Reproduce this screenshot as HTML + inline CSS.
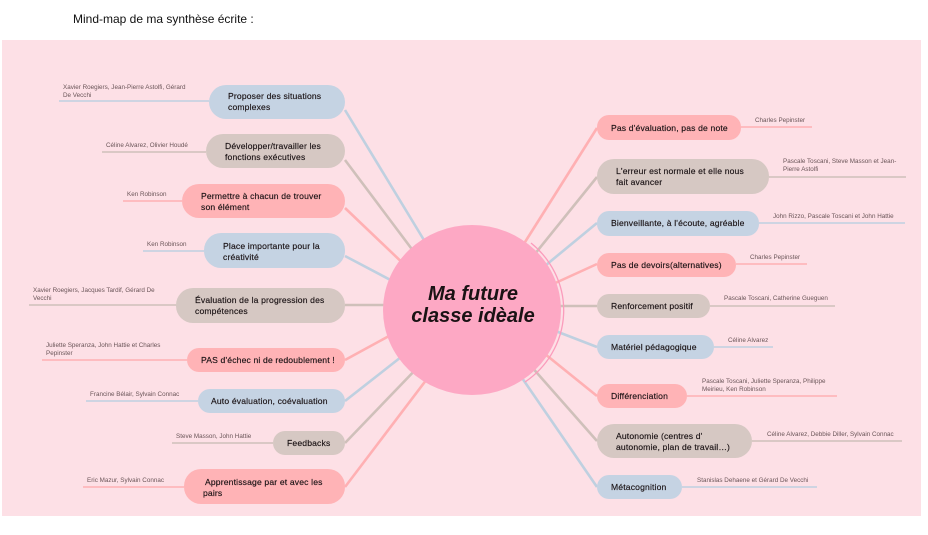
<!DOCTYPE html>
<html><head><meta charset="utf-8"><style>
html,body{margin:0;padding:0;background:#fff;width:928px;height:535px;overflow:hidden}
svg{display:block}
.t{font-family:"Liberation Sans",sans-serif;font-size:8.6px;fill:#1a1214;letter-spacing:.15px;stroke:#1a1214;stroke-width:.15px}
.a{font-family:"Liberation Sans",sans-serif;font-size:6.3px;fill:#6a5558}
</style></head><body>
<svg width="928" height="535" viewBox="0 0 928 535" xmlns="http://www.w3.org/2000/svg">
<text x="73" y="23" font-family="Liberation Sans,sans-serif" font-size="12" fill="#111">Mind-map de ma synthèse écrite :</text>
<rect x="2" y="40" width="919" height="476" fill="#fde0e6"/>
<g stroke-width="2.6" fill="none">
<line x1="345" y1="110" x2="430" y2="250" stroke="#bfd0e0"/>
<line x1="345" y1="160" x2="420" y2="260" stroke="#cfc0ba"/>
<line x1="345" y1="208" x2="410" y2="270" stroke="#ffb0b3"/>
<line x1="345" y1="256" x2="400" y2="285" stroke="#bfd0e0"/>
<line x1="345" y1="305" x2="400" y2="305" stroke="#cfc0ba"/>
<line x1="345" y1="360" x2="400" y2="330" stroke="#ffb0b3"/>
<line x1="345" y1="401" x2="410" y2="350" stroke="#bfd0e0"/>
<line x1="345" y1="443" x2="420" y2="365" stroke="#cfc0ba"/>
<line x1="345" y1="487" x2="430" y2="375" stroke="#ffb0b3"/>
<line x1="597" y1="128" x2="520" y2="250" stroke="#ffb0b3"/>
<line x1="597" y1="177" x2="530" y2="260" stroke="#cfc0ba"/>
<line x1="597" y1="223" x2="540" y2="270" stroke="#bfd0e0"/>
<line x1="597" y1="264" x2="540" y2="290" stroke="#ffb0b3"/>
<line x1="597" y1="306" x2="540" y2="306" stroke="#cfc0ba"/>
<line x1="597" y1="347" x2="540" y2="325" stroke="#bfd0e0"/>
<line x1="597" y1="396" x2="540" y2="350" stroke="#ffb0b3"/>
<line x1="597" y1="441" x2="530" y2="365" stroke="#cfc0ba"/>
<line x1="597" y1="487" x2="520" y2="375" stroke="#bfd0e0"/>
</g>
<g stroke-width="1.6">
<line x1="59" y1="101" x2="209" y2="101" stroke="#bfd0e0"/>
<line x1="102" y1="152" x2="206" y2="152" stroke="#cfc0ba"/>
<line x1="123" y1="201" x2="182" y2="201" stroke="#ffb0b3"/>
<line x1="143" y1="251" x2="204" y2="251" stroke="#bfd0e0"/>
<line x1="29" y1="305" x2="176" y2="305" stroke="#cfc0ba"/>
<line x1="42" y1="360" x2="187" y2="360" stroke="#ffb0b3"/>
<line x1="86" y1="401" x2="198" y2="401" stroke="#bfd0e0"/>
<line x1="172" y1="443" x2="273" y2="443" stroke="#cfc0ba"/>
<line x1="83" y1="487" x2="184" y2="487" stroke="#ffb0b3"/>
<line x1="741" y1="127" x2="812" y2="127" stroke="#ffb0b3"/>
<line x1="769" y1="177" x2="906" y2="177" stroke="#cfc0ba"/>
<line x1="759" y1="223" x2="905" y2="223" stroke="#bfd0e0"/>
<line x1="736" y1="264" x2="807" y2="264" stroke="#ffb0b3"/>
<line x1="710" y1="306" x2="835" y2="306" stroke="#cfc0ba"/>
<line x1="714" y1="347" x2="773" y2="347" stroke="#bfd0e0"/>
<line x1="687" y1="396" x2="837" y2="396" stroke="#ffb0b3"/>
<line x1="752" y1="441" x2="902" y2="441" stroke="#cfc0ba"/>
<line x1="682" y1="487" x2="817" y2="487" stroke="#bfd0e0"/>
</g>
<rect x="209" y="85" width="136" height="34" rx="17" fill="#c5d3e3"/>
<rect x="206" y="134" width="139" height="34" rx="17" fill="#d6c8c3"/>
<rect x="182" y="184" width="163" height="34" rx="17" fill="#ffb3b6"/>
<rect x="204" y="233" width="141" height="35" rx="17" fill="#c5d3e3"/>
<rect x="176" y="288" width="169" height="35" rx="17" fill="#d6c8c3"/>
<rect x="187" y="348" width="158" height="24" rx="12" fill="#ffb3b6"/>
<rect x="198" y="389" width="147" height="24" rx="12" fill="#c5d3e3"/>
<rect x="273" y="431" width="72" height="24" rx="12" fill="#d6c8c3"/>
<rect x="184" y="469" width="161" height="35" rx="17" fill="#ffb3b6"/>
<rect x="597" y="115" width="144" height="25" rx="12" fill="#ffb3b6"/>
<rect x="597" y="159" width="172" height="35" rx="17" fill="#d6c8c3"/>
<rect x="597" y="211" width="162" height="25" rx="12" fill="#c5d3e3"/>
<rect x="597" y="253" width="139" height="24" rx="12" fill="#ffb3b6"/>
<rect x="597" y="294" width="113" height="24" rx="12" fill="#d6c8c3"/>
<rect x="597" y="335" width="117" height="24" rx="12" fill="#c5d3e3"/>
<rect x="597" y="384" width="90" height="24" rx="12" fill="#ffb3b6"/>
<rect x="597" y="424" width="155" height="34" rx="17" fill="#d6c8c3"/>
<rect x="597" y="475" width="85" height="24" rx="12" fill="#c5d3e3"/>
<ellipse cx="472" cy="310" rx="89" ry="85" fill="#fda8c4"/>
<path d="M531 243 A92 88 0 0 1 525 382" stroke="#fb9cbc" stroke-width="1.3" fill="none"/>
<text x="473" y="300" text-anchor="middle" font-family="Liberation Sans,sans-serif" font-style="italic" font-weight="bold" font-size="20" fill="#1a1214">Ma future</text>
<text x="473" y="322" text-anchor="middle" font-family="Liberation Sans,sans-serif" font-style="italic" font-weight="bold" font-size="20" fill="#1a1214">classe idèale</text>
<text class="t" x="228" y="99">Proposer des situations</text><text class="t" x="228" y="110">complexes</text>
<text class="t" x="225" y="149">Développer/travailler les</text><text class="t" x="225" y="160">fonctions exécutives</text>
<text class="t" x="201" y="199">Permettre à chacun de trouver</text><text class="t" x="201" y="210">son élément</text>
<text class="t" x="223" y="249">Place importante pour la</text><text class="t" x="223" y="260">créativité</text>
<text class="t" x="195" y="303">Évaluation de la progression des</text><text class="t" x="195" y="314">compétences</text>
<text class="t" x="201" y="363">PAS d'échec ni de redoublement !</text>
<text class="t" x="211" y="404">Auto évaluation, coévaluation</text>
<text class="t" x="287" y="446">Feedbacks</text>
<text class="t" x="205" y="485">Apprentissage par et avec les</text><text class="t" x="203" y="496">pairs</text>
<text class="t" x="611" y="131">Pas d'évaluation, pas de note</text>
<text class="t" x="616" y="174">L'erreur est normale et elle nous</text><text class="t" x="616" y="185">fait avancer</text>
<text class="t" x="611" y="226">Bienveillante, à l'écoute, agréable</text>
<text class="t" x="611" y="268">Pas de devoirs(alternatives)</text>
<text class="t" x="611" y="309">Renforcement positif</text>
<text class="t" x="611" y="350">Matériel pédagogique</text>
<text class="t" x="611" y="399">Différenciation</text>
<text class="t" x="616" y="439">Autonomie (centres d'</text><text class="t" x="616" y="450">autonomie, plan de travail…)</text>
<text class="t" x="611" y="490">Métacognition</text>
<text class="a" x="63" y="89">Xavier Roegiers, Jean-Pierre Astolfi, Gérard</text><text class="a" x="63" y="97">De Vecchi</text>
<text class="a" x="106" y="147">Céline Alvarez, Olivier Houdé</text>
<text class="a" x="127" y="196">Ken Robinson</text>
<text class="a" x="147" y="246">Ken Robinson</text>
<text class="a" x="33" y="292">Xavier Roegiers, Jacques Tardif, Gérard De</text><text class="a" x="33" y="300">Vecchi</text>
<text class="a" x="46" y="347">Juliette Speranza, John Hattie et Charles</text><text class="a" x="46" y="355">Pepinster</text>
<text class="a" x="90" y="396">Francine Bélair, Sylvain Connac</text>
<text class="a" x="176" y="438">Steve Masson, John Hattie</text>
<text class="a" x="87" y="482">Eric Mazur, Sylvain Connac</text>
<text class="a" x="755" y="122">Charles Pepinster</text>
<text class="a" x="783" y="163">Pascale Toscani, Steve Masson et Jean-</text><text class="a" x="783" y="171">Pierre Astolfi</text>
<text class="a" x="773" y="218">John Rizzo, Pascale Toscani et John Hattie</text>
<text class="a" x="750" y="259">Charles Pepinster</text>
<text class="a" x="724" y="300">Pascale Toscani, Catherine Gueguen</text>
<text class="a" x="728" y="342">Céline Alvarez</text>
<text class="a" x="702" y="383">Pascale Toscani, Juliette Speranza, Philippe</text><text class="a" x="702" y="391">Meirieu, Ken Robinson</text>
<text class="a" x="767" y="436">Céline Alvarez, Debbie Diller, Sylvain Connac</text>
<text class="a" x="697" y="482">Stanislas Dehaene et Gérard De Vecchi</text>
</svg>
</body></html>
